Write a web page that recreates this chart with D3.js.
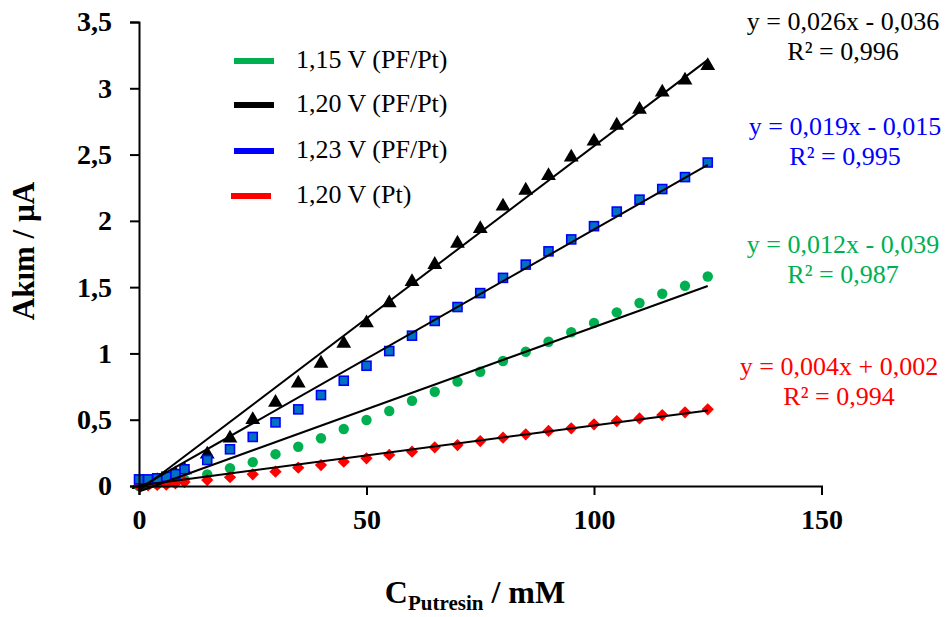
<!DOCTYPE html>
<html>
<head>
<meta charset="utf-8">
<script src="https://cdn.jsdelivr.net/npm/d3@7"></script>
<style>
  html, body { margin: 0; padding: 0; background: #fff; }
  svg { display: block; font-family: "Liberation Serif", "Times New Roman", serif; }
</style>
</head>
<body>
<svg id="chart" width="950" height="617"></svg>
<script>
// ---------------- data ----------------
const concentrations = [0, 2, 4, 6, 8, 10, 15, 20, 25, 30, 35, 40, 45, 50, 55, 60, 65, 70, 75, 80, 85, 90, 95, 100, 105, 110, 115, 120, 125];

const green115 = [0.00, 0.01, 0.015, 0.02, 0.03, 0.05, 0.088, 0.134, 0.18, 0.24, 0.296, 0.36, 0.43, 0.498, 0.566, 0.643, 0.711, 0.787, 0.862, 0.943, 1.013, 1.088, 1.16, 1.23, 1.31, 1.38, 1.45, 1.51, 1.58];
const black120 = [0.01, 0.02, 0.04, 0.06, 0.09, 0.12, 0.24, 0.36, 0.50, 0.63, 0.775, 0.925, 1.075, 1.23, 1.38, 1.54, 1.67, 1.83, 1.94, 2.11, 2.23, 2.34, 2.48, 2.60, 2.72, 2.84, 2.97, 3.06, 3.17];
const blue123 = [0.05, 0.05, 0.058, 0.07, 0.09, 0.126, 0.196, 0.277, 0.37, 0.48, 0.578, 0.686, 0.794, 0.907, 1.018, 1.134, 1.245, 1.35, 1.455, 1.57, 1.67, 1.77, 1.86, 1.96, 2.07, 2.16, 2.24, 2.33, 2.44];
const red120Pt = [0.00, 0.005, 0.008, 0.01, 0.02, 0.03, 0.045, 0.066, 0.088, 0.108, 0.138, 0.158, 0.183, 0.209, 0.234, 0.259, 0.292, 0.309, 0.339, 0.364, 0.39, 0.415, 0.435, 0.465, 0.49, 0.51, 0.535, 0.556, 0.578];

const seriesNames = ["1,15 V (PF/Pt)", "1,20 V (PF/Pt)", "1,23 V (PF/Pt)", "1,20 V (Pt)"];
// trendline slope / intercept (as drawn)
const trendSlopes = [0.0124, 0.026, 0.0195, 0.00453];
const trendIntercepts = [-0.041, -0.036, -0.015, 0.004];
const equationTexts = ["y = 0,012x - 0,039", "y = 0,026x - 0,036", "y = 0,019x - 0,015", "y = 0,004x + 0,002"];
const r2Texts = ["R² = 0,987", "R² = 0,996", "R² = 0,995", "R² = 0,994"];

const xTicks = [0, 50, 100, 150];
const xTickLabels = ["0", "50", "100", "150"];
const yTicks = [0, 0.5, 1, 1.5, 2, 2.5, 3, 3.5];
const yTickLabels = ["0", "0,5", "1", "1,5", "2", "2,5", "3", "3,5"];

// ---------------- styles ----------------
const lineColors = ["#00B050", "#000000", "#0000FF", "#FF0000"];
const eqColors = ["#00B050", "#000000", "#0000FF", "#FF0000"];
const eqPos = [[843, 253], [843, 30], [845, 135], [839, 375]];
const legendY = [61, 105, 151, 196];

const svg = d3.select("#chart");
const x = d3.scaleLinear().domain([0, 150]).range([139, 821.5]);
const y = d3.scaleLinear().domain([0, 3.5]).range([486, 22]);

const series = [green115, black120, blue123, red120Pt].map((vals, i) => ({
  name: seriesNames[i],
  points: concentrations.map((c, j) => ({ x: c, y: vals[j] }))
}));

// markers
const gMarks = svg.append("g");
const order = [1, 0, 3, 2];
order.forEach(i => {
  const s = series[i];
  const g = gMarks.append("g");
  if (i === 0) {
    g.selectAll("circle").data(s.points).join("circle")
      .attr("cx", d => x(d.x)).attr("cy", d => y(d.y)).attr("r", 5.2)
      .attr("fill", "#00B050");
  } else if (i === 1) {
    g.selectAll("path").data(s.points).join("path")
      .attr("d", d3.symbol(d3.symbolTriangle, 95))
      .attr("transform", d => `translate(${x(d.x)},${y(d.y)})`)
      .attr("fill", "#000");
  } else if (i === 2) {
    g.selectAll("rect").data(s.points).join("rect")
      .attr("x", d => x(d.x) - 4.5).attr("y", d => y(d.y) - 4.5)
      .attr("width", 9).attr("height", 9)
      .attr("fill", "#0070C0").attr("stroke", "#0000FF").attr("stroke-width", 1.6);
  } else {
    g.selectAll("path").data(s.points).join("path")
      .attr("d", d3.symbol(d3.symbolSquare, 75))
      .attr("transform", d => `translate(${x(d.x)},${y(d.y)}) rotate(45)`)
      .attr("fill", "#FF0000");
  }
});

// trendlines
const lineGen = d3.line().x(d => x(d[0])).y(d => y(d[1]));
trendSlopes.forEach((m, i) => {
  const xs = [0, 125];
  svg.append("path")
    .attr("d", lineGen(xs.map(v => [v, m * v + trendIntercepts[i]])))
    .attr("stroke", "#000").attr("stroke-width", 2).attr("fill", "none");
});

// axes
const xAxis = d3.axisBottom(x).tickValues(xTicks).tickSize(9).tickPadding(14)
  .tickFormat((d, i) => xTickLabels[i]);
const yAxis = d3.axisLeft(y).tickValues(yTicks).tickSize(9).tickPadding(18)
  .tickFormat((d, i) => yTickLabels[i]);

const gx = svg.append("g").attr("transform", `translate(0,${y(0)})`).call(xAxis);
const gy = svg.append("g").attr("transform", `translate(${x(0)},0)`).call(yAxis);
[gx, gy].forEach(g => {
  g.select(".domain").attr("stroke", "#000").attr("stroke-width", 2);
  g.selectAll(".tick line").attr("stroke", "#000").attr("stroke-width", 2);
  g.selectAll(".tick text")
    .attr("fill", "#000")
    .style("font-family", "'Liberation Serif', serif")
    .style("font-size", "28px").style("font-weight", "bold");
});
gx.selectAll(".tick text").attr("dy", "0.71em");

// axis titles
svg.append("text")
  .attr("transform", "translate(34,251) rotate(-90)")
  .attr("text-anchor", "middle")
  .style("font-size", "31px").style("font-weight", "bold")
  .text("Akım / µA");

const xt = svg.append("text")
  .attr("x", 475).attr("y", 603)
  .attr("text-anchor", "middle")
  .style("font-size", "32px").style("font-weight", "bold");
xt.append("tspan").text("C");
xt.append("tspan").attr("dy", 7).style("font-size", "21px").text("Putresin");
xt.append("tspan").attr("dy", -7).text(" / mM");

// legend
const lg = svg.append("g");
seriesNames.forEach((n, i) => {
  const off = i === 3 ? -3 : 0;
  lg.append("line")
    .attr("x1", 234 + off).attr("x2", 274 + off)
    .attr("y1", legendY[i]).attr("y2", legendY[i])
    .attr("stroke", lineColors[i]).attr("stroke-width", 6);
  lg.append("text")
    .attr("x", 296).attr("y", legendY[i] + 7)
    .style("font-size", "26px").attr("fill", "#000")
    .text(n);
});

// equations
equationTexts.forEach((t, i) => {
  svg.append("text").attr("x", eqPos[i][0]).attr("y", eqPos[i][1])
    .attr("text-anchor", "middle").attr("fill", eqColors[i])
    .style("font-size", "26px").text(t);
  svg.append("text").attr("x", eqPos[i][0]).attr("y", eqPos[i][1] + 30)
    .attr("text-anchor", "middle").attr("fill", eqColors[i])
    .style("font-size", "26px").text(r2Texts[i]);
});
</script>
</body>
</html>
